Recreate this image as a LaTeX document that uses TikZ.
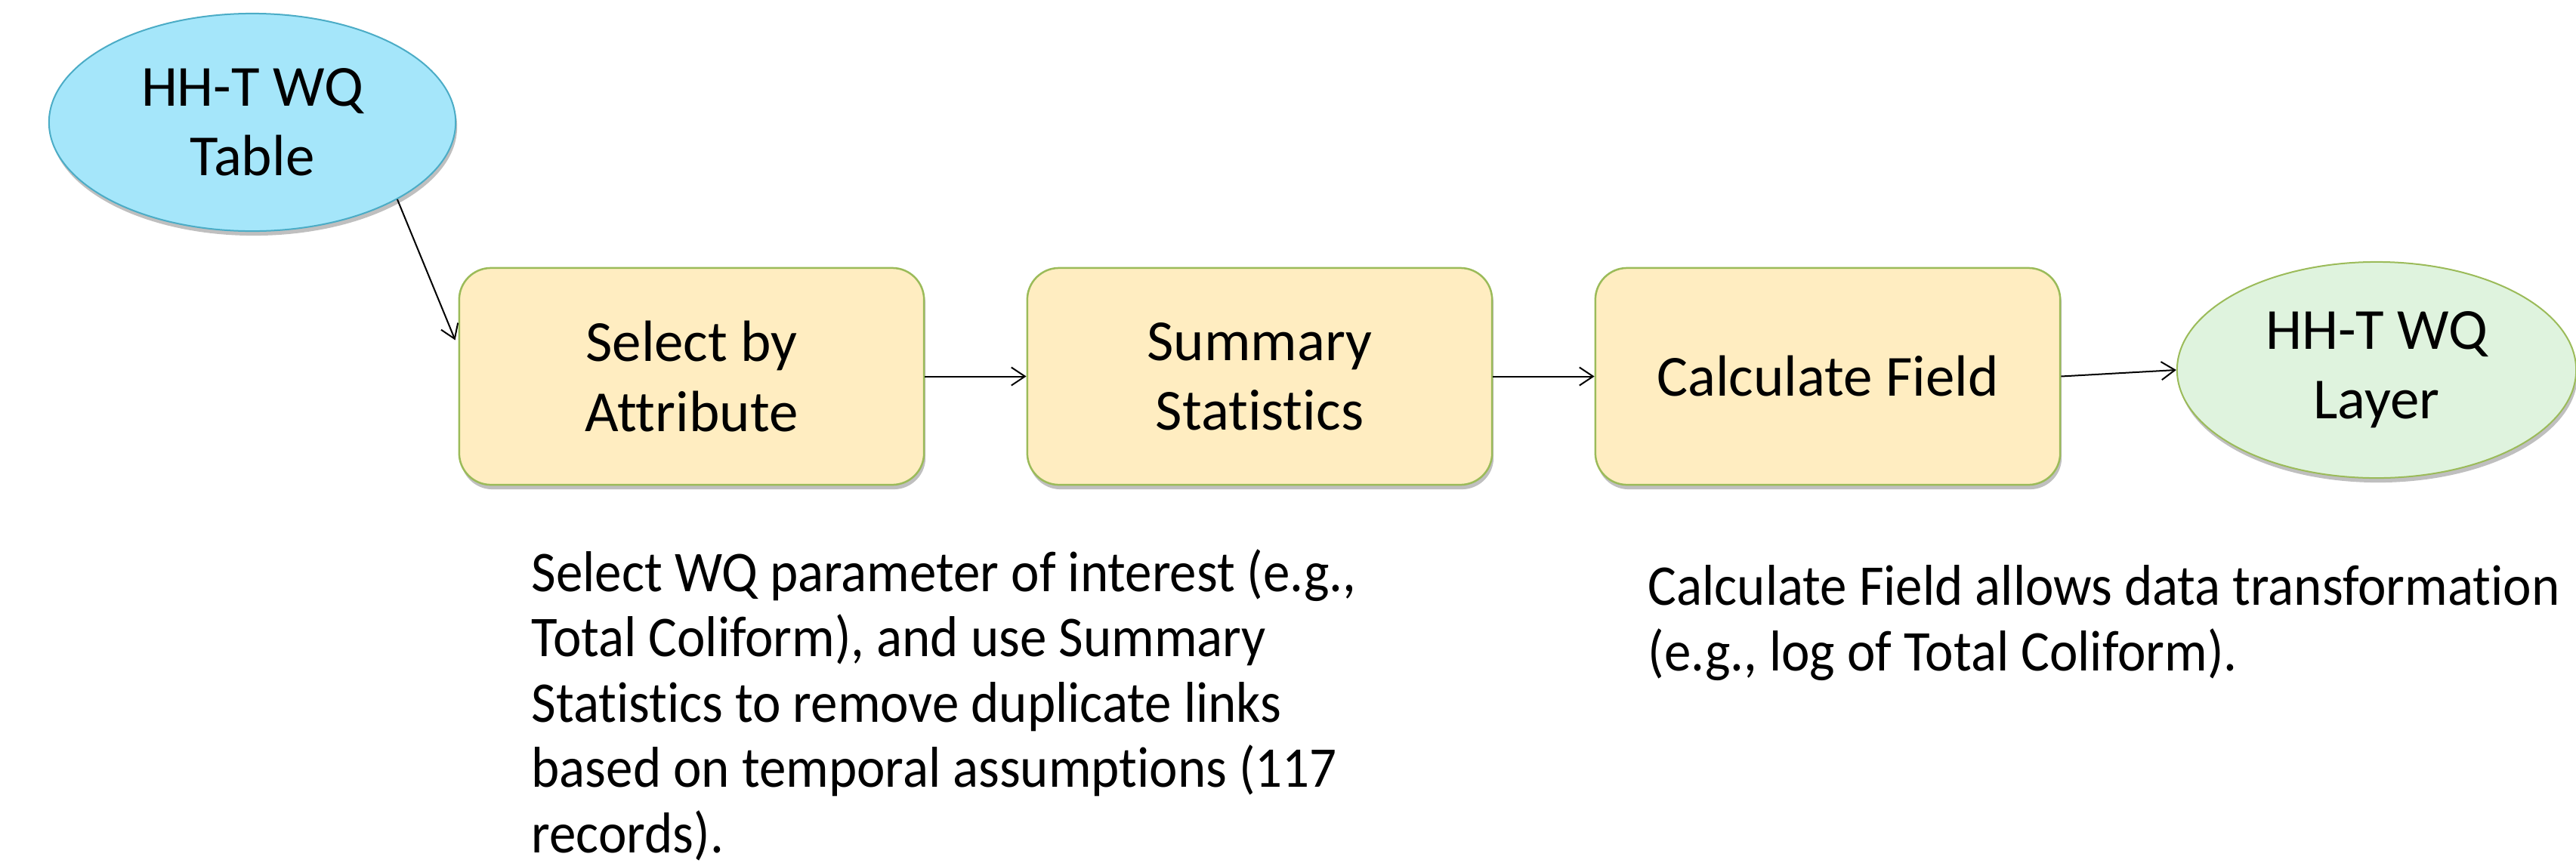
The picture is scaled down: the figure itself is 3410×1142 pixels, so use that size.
\documentclass[tikz,border=0pt]{standalone}
\usepackage{fontspec}
\setmainfont{Carlito}[Ligatures=NoCommon]
\newfontfamily\notefont{Carlito}[Ligatures=NoCommon,FakeStretch=0.93]
\usetikzlibrary{arrows.meta,shadows,shapes.geometric}
\definecolor{tabfill}{HTML}{A5E6FA}
\definecolor{tabdraw}{HTML}{4BACC6}
\definecolor{boxfill}{HTML}{FFEDC1}
\definecolor{boxdraw}{HTML}{9BBB59}
\definecolor{layfill}{HTML}{DFF3DE}
\tikzset{
  shade/.style={drop shadow={shadow xshift=0.02cm,shadow yshift=-0.06cm,opacity=0.25,fill=black}},
  ovalnode/.style={ellipse,inner sep=0pt,align=center,line width=0.02cm,shade,
    font=\fontsize{21.9pt}{26.2pt}\selectfont},
  toolbox/.style={rounded corners=0.42cm,draw=boxdraw,fill=boxfill,line width=0.025cm,
    minimum width=6.15cm,minimum height=2.87cm,inner sep=0pt,align=center,shade,
    font=\fontsize{21.9pt}{26.2pt}\selectfont},
  note/.style={inner sep=0pt,align=left,font=\notefont\fontsize{21.7pt}{24.56pt}\selectfont},
  flow/.style={line width=0.02cm,-{Straight Barb[length=0.18cm,width=0.24cm,line width=0.02cm]}}
}
\begin{document}
\begin{tikzpicture}[x=0.01cm,y=-0.01cm]
\useasboundingbox[fill=white] (0,0) rectangle (3410,1142);
\node[ovalnode,draw=tabdraw,fill=tabfill,minimum width=5.38cm,minimum height=2.88cm] (tab) at (334,162) {HH-T WQ\\Table};
\node[toolbox] (sel) at (915.5,498.5) {Select by\\Attribute};
\node[toolbox] (sum) at (1667.5,498.5) {Summary\\Statistics};
\node[toolbox] (cal) at (2419.5,498.5) {Calculate Field};
\node[ovalnode,draw=boxdraw,fill=layfill,minimum width=5.28cm,minimum height=2.86cm] (lay) at (3146,490) {HH-T WQ\\Layer};
\draw[flow] (tab.-28.6) -- ([yshift=0.48cm,xshift=-0.04cm]sel.west);
\draw[flow] (sel.east) -- (sum.west);
\draw[flow] (sum.east) -- (cal.west);
\draw[flow] (cal.east) -- (lay.west);
\node[note,anchor=base west] (n1) at (703,1129) {Select WQ parameter of interest (e.g.,\\Total Coliform), and use Summary\\Statistics to remove duplicate links\\based on temporal assumptions (117\\records).};
\node[note,anchor=base west] (n2) at (2181,888) {Calculate Field allows data transformation\\(e.g., log of Total Coliform).};
\end{tikzpicture}
\end{document}
